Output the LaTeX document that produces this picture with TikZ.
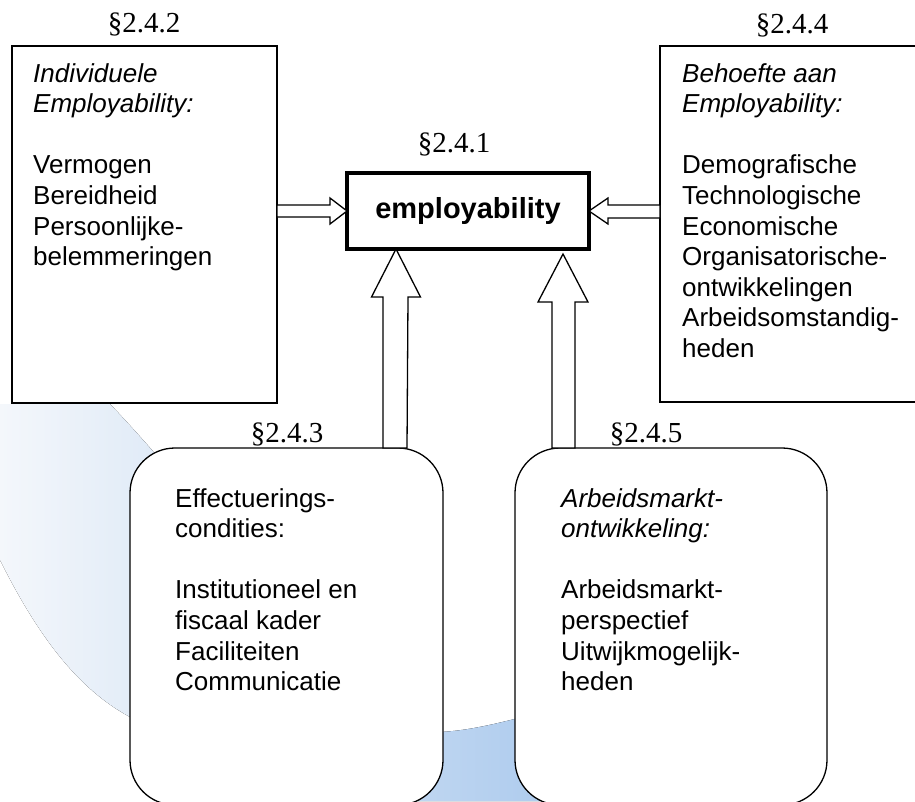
\documentclass[tikz,border=0pt]{standalone}
\usepackage{fontspec}
\setmainfont{Liberation Sans}
\newfontfamily\serifsec{Liberation Serif}
\usetikzlibrary{calc}
\definecolor{wmblue}{RGB}{165,198,236}
\definecolor{wmlight}{RGB}{244,247,251}
\tikzset{
  boxst/.style={draw, line width=1.3pt, fill=white, inner sep=0pt, outer sep=0pt, anchor=north west},
  rbox/.style={boxst, rounded corners=45pt},
  cbox/.style={draw, line width=3.4pt, fill=white, inner sep=0pt, outer sep=0pt, minimum width=242pt, minimum height=76pt, font=\fontsize{29}{34}\selectfont\bfseries},
  txt/.style={anchor=north west, inner sep=0pt, align=left, font=\fontsize{26}{30.6}\selectfont},
  sec/.style={anchor=base, inner sep=0pt, font=\fontsize{29}{34}\selectfont\serifsec},
  fat/.style={draw, line width=1.3pt, fill=white, line join=miter}
}
\begin{document}
\begin{tikzpicture}[x=1pt,y=-1pt]
\useasboundingbox (0,0) rectangle (915,801);
\begin{scope}
\clip (0,0) rectangle (915,801);
% faint background watermark
\fill[left color=wmlight, right color=wmblue]
  (0,404) -- (110,404) .. controls (240,540) and (360,735) .. (440,732)
  .. controls (480,730) and (520,718) .. (620,690) -- (620,801) -- (320,801)
  .. controls (220,770) and (160,745) .. (130,717)
  .. controls (80,690) and (40,640) .. (0,560) -- cycle;
% boxes
\node[boxst, minimum width=265pt, minimum height=357pt] (lbox) at (12,46) {};
\node[boxst, minimum width=270pt, minimum height=356pt] (rbox) at (660,46) {};
\node[rbox, minimum width=313pt, minimum height=357pt] (lrbox) at (130,448) {};
\node[rbox, minimum width=312pt, minimum height=357pt] (rrbox) at (515,448) {};
\node[cbox] (cb) at (468,211) {employability};
% coordinates for arrows
\coordinate (ltip) at (cb.west);
\coordinate (rtip) at (cb.east);
\coordinate (ultip) at ($(cb.south west)+(49,0)$);
\coordinate (urtip) at ($(cb.south west)+(216,5)$);
% left arrow
\draw[fat] (ltip) -- ++(-17,-13) -- ++(0,7) -- (lbox.east |- {$(ltip)+(0,-6)$}) -- (lbox.east |- {$(ltip)+(0,6)$}) -- ($(ltip)+(-17,6)$) -- ++(0,7) -- cycle;
% right arrow
\draw[fat] (rtip) -- ++(19,-13) -- ++(0,7) -- (rbox.west |- {$(rtip)+(0,-6)$}) -- (rbox.west |- {$(rtip)+(0,7)$}) -- ($(rtip)+(19,7)$) -- ++(0,6) -- cycle;
% up arrows
\draw[fat] (ultip) -- ++(24.5,48) -- ++(-12.5,0) -- ($(ultip |- lrbox.north)+(11,0)$) -- ($(ultip |- lrbox.north)+(-13,0)$) -- ($(ultip)+(-13,48)$) -- ++(-11.5,0) -- cycle;
\draw[fat] (urtip) -- ++(25,48) -- ++(-13,0) -- ($(urtip |- rrbox.north)+(12,0)$) -- ($(urtip |- rrbox.north)+(-11,0)$) -- ($(urtip)+(-11,48)$) -- ++(-14,0) -- cycle;
\end{scope}
% section labels
\node[sec] (s242) at (144,32) {§2.4.2};
\node[sec] (s244) at (792,33) {§2.4.4};
\node[sec] (s241) at (454,152) {§2.4.1};
\node[sec] (s243) at (287,442) {§2.4.3};
\node[sec] (s245) at (646,442) {§2.4.5};
% texts
\node[txt] (tl) at (33,63) {\itshape Individuele\\\itshape Employability:\\[30.6pt]Vermogen\\Bereidheid\\Persoonlijke-\\belemmeringen};
\node[txt] (tr) at (682,63) {\itshape Behoefte aan\\\itshape Employability:\\[30.6pt]Demografische\\Technologische\\Economische\\Organisatorische-\\ontwikkelingen\\Arbeidsomstandig-\\heden};
\node[txt] (tbl) at (175,488) {Effectuerings-\\condities:\\[30.6pt]Institutioneel en\\fiscaal kader\\Faciliteiten\\Communicatie};
\node[txt] (tbr) at (561,488) {\itshape Arbeidsmarkt-\\\itshape ontwikkeling:\\[30.6pt]Arbeidsmarkt-\\perspectief\\Uitwijkmogelijk-\\heden};
\end{tikzpicture}
\end{document}
